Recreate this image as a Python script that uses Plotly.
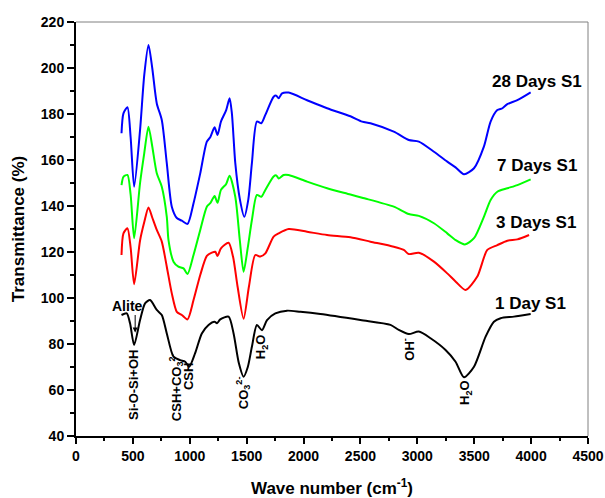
import plotly.graph_objects as go

# ---------------- data ----------------
wn_28 = [400, 417, 452, 480, 511, 563, 600, 637, 670, 710, 754, 798, 842, 886, 930, 980,
         1033, 1092, 1150, 1180, 1218, 1244, 1274, 1320, 1350, 1370, 1400, 1440, 1479, 1515,
         1546, 1590, 1629, 1664, 1737, 1760, 1781, 1811, 1869, 2031, 2207, 2412, 2515, 2588,
         2793, 2925, 3013, 3146, 3263, 3336, 3410, 3498, 3585, 3644, 3703, 3748, 3791, 3879, 3996]
t_28 = [171.6, 180.3, 182.9, 170.0, 148.4, 173.0, 197.0, 210.0, 200.0, 184.6, 177.4, 158.6,
        139.7, 134.8, 133.6, 132.2, 141.2, 154.2, 168.0, 169.9, 174.2, 170.9, 176.7, 181.7,
        186.8, 180.3, 158.6, 143.0, 135.3, 143.0, 158.6, 176.7, 176.0, 179.6, 187.5, 188.0,
        186.8, 189.0, 189.3, 186.0, 182.5, 179.0, 176.7, 176.0, 172.3, 168.7, 168.0, 163.6,
        159.3, 156.8, 153.8, 156.4, 165.8, 176.7, 181.7, 182.5, 184.3, 186.0, 189.4]

wn_7 = [400, 417, 452, 480, 511, 563, 600, 637, 670, 710, 754, 798, 813, 857, 900, 945, 980,
        1033, 1092, 1150, 1180, 1218, 1244, 1274, 1320, 1350, 1400, 1440, 1473, 1510, 1546,
        1590, 1629, 1664, 1737, 1760, 1781, 1825, 1869, 2031, 2207, 2412, 2515, 2793, 2925,
        3013, 3146, 3263, 3336, 3418, 3498, 3585, 3644, 3703, 3791, 3879, 3996]
t_7 = [149.1, 152.7, 153.5, 145.0, 126.0, 150.0, 163.0, 174.5, 166.0, 154.2, 148.4, 135.3,
       125.2, 115.8, 113.6, 112.9, 110.4, 118.7, 129.6, 139.7, 141.2, 144.3, 141.4, 147.0,
       149.6, 153.2, 144.0, 125.0, 111.4, 122.0, 133.9, 144.8, 144.0, 147.0, 152.8, 153.3,
       152.0, 153.5, 153.5, 150.6, 147.7, 145.0, 143.6, 139.7, 136.5, 135.7, 132.5, 128.1,
       125.2, 123.3, 126.0, 135.3, 142.6, 146.2, 147.7, 149.1, 151.6]

wn_3 = [400, 417, 452, 480, 511, 563, 600, 637, 670, 710, 754, 798, 842, 886, 930, 980, 1033,
        1092, 1150, 1194, 1224, 1244, 1274, 1341, 1380, 1420, 1473, 1520, 1576, 1620, 1664,
        1737, 1781, 1869, 2031, 2207, 2412, 2588, 2793, 2881, 2925, 3013, 3146, 3263, 3340,
        3424, 3527, 3615, 3703, 3791, 3879, 3982]
t_3 = [118.7, 128.1, 130.3, 122.0, 106.0, 125.0, 133.0, 139.4, 135.0, 129.6, 124.5, 113.6,
       102.0, 94.0, 92.6, 90.7, 99.1, 110.0, 118.3, 119.7, 120.1, 118.3, 121.6, 124.0, 118.0,
       105.0, 91.0, 105.0, 118.7, 118.0, 119.4, 126.7, 128.1, 130.0, 128.8, 127.4, 126.4,
       124.5, 122.3, 120.9, 119.1, 119.7, 115.8, 110.7, 107.0, 103.5, 109.3, 120.9, 123.0,
       124.9, 125.5, 127.4]

wn_1 = [400, 446, 475, 511, 563, 607, 651, 710, 754, 798, 857, 915, 960, 995, 1047, 1106,
        1165, 1218, 1239, 1268, 1341, 1385, 1430, 1473, 1510, 1546, 1590, 1634, 1679, 1752,
        1855, 1972, 2148, 2500, 2764, 2837, 2925, 3013, 3116, 3248, 3336, 3410, 3498, 3600,
        3673, 3732, 3849, 3996]
t_1 = [92.6, 93.3, 89.0, 79.6, 90.4, 97.7, 99.1, 94.8, 92.6, 84.6, 74.5, 73.0, 72.3, 70.1,
       76.0, 84.6, 88.3, 89.7, 89.0, 90.7, 91.9, 84.6, 72.0, 65.8, 70.0, 78.8, 88.3, 86.0,
       90.4, 93.3, 94.5, 94.0, 93.0, 90.4, 88.3, 86.1, 84.3, 85.4, 82.5, 77.4, 72.3, 65.5,
       70.1, 83.2, 89.7, 91.2, 91.9, 93.0]

series_names = ["28 Days S1", "7 Days S1", "3 Days S1", "1 Day S1"]
series_colors = ["#0000FF", "#00FF00", "#FF0000", "#000000"]
series_x = [wn_28, wn_7, wn_3, wn_1]
series_y = [t_28, t_7, t_3, t_1]

# series label positions (right edge x, centre y) in data units
label_x = [4463, 4419, 4410, 4322]
label_y = [194.3, 157.8, 133.0, 97.8]

# band assignments (rotated text): text, x, y
band_text = ["Si-O-Si+OH", "CSH+CO<sub>3</sub><sup>2-</sup>", "CSH",
             "CO<sub>3</sub><sup>2-</sup>", "H<sub>2</sub>O", "OH<sup>-</sup>", "H<sub>2</sub>O"]
band_x = [510, 880, 995, 1470, 1637, 2923, 3424]
band_y = [62.2, 61.3, 65.7, 58.7, 78.7, 77.8, 59.0]

FONT = "Liberation Sans, Arial, sans-serif"

fig = go.Figure()
for name, col, xs, ys in zip(series_names, series_colors, series_x, series_y):
    fig.add_trace(go.Scatter(x=xs, y=ys, mode="lines", name=name,
                             line=dict(color=col, width=2, shape="spline", smoothing=0.7),
                             showlegend=False))

annotations = []
for name, lx, ly in zip(series_names, label_x, label_y):
    annotations.append(dict(x=lx, y=ly, xref="x", yref="y", text=name, showarrow=False,
                            xanchor="right", yanchor="middle",
                            font=dict(family=FONT, size=17, color="black", weight="bold")))
for t, bx, by in zip(band_text, band_x, band_y):
    annotations.append(dict(x=bx, y=by, xref="x", yref="y", text=t, showarrow=False,
                            textangle=-90, xanchor="center", yanchor="middle",
                            font=dict(family=FONT, size=13, color="black", weight="bold")))
# Alite label + arrow
annotations.append(dict(x=449, y=96.5, xref="x", yref="y", text="Alite", showarrow=False,
                        font=dict(family=FONT, size=14, color="black", weight="bold")))
annotations.append(dict(x=520, y=85.0, xref="x", yref="y", text="", showarrow=True,
                        ax=0, ay=-19, arrowhead=2, arrowsize=1, arrowwidth=1,
                        arrowcolor="black"))

fig.update_layout(
    width=605, height=498,
    margin=dict(l=76, r=17, t=22, b=62, autoexpand=False),
    plot_bgcolor="white", paper_bgcolor="white",
    annotations=annotations,
    shapes=[
        dict(type="line", xref="paper", yref="paper", x0=0, x1=1, y0=1, y1=1,
             line=dict(color="#808080", width=1)),
        dict(type="line", xref="paper", yref="paper", x0=1, x1=1, y0=0, y1=1,
             line=dict(color="#808080", width=1)),
    ],
    xaxis=dict(range=[0, 4500], dtick=500, tick0=0, showgrid=False, zeroline=False,
               automargin=False,
               showline=True, linecolor="black", linewidth=2,
               ticks="outside", ticklen=6, tickwidth=2, tickcolor="black",
               minor=dict(ticks="outside", dtick=250, ticklen=3, tickwidth=1.5,
                          tickcolor="black", showgrid=False),
               tickfont=dict(family=FONT, size=14, color="black", weight="bold"),
               title=dict(text="Wave number (cm<sup>-1</sup>)", standoff=22,
                          font=dict(family=FONT, size=17, color="black", weight="bold"))),
    yaxis=dict(range=[40, 220], dtick=20, tick0=40, showgrid=False, zeroline=False,
               automargin=False,
               showline=True, linecolor="black", linewidth=2,
               ticks="outside", ticklen=7, tickwidth=2, tickcolor="black",
               minor=dict(ticks="outside", dtick=10, ticklen=4, tickwidth=1.5,
                          tickcolor="black", showgrid=False),
               tickfont=dict(family=FONT, size=14, color="black", weight="bold"),
               title=dict(text="Transmittance (%)", standoff=12,
                          font=dict(family=FONT, size=17, color="black", weight="bold"))),
)

fig.write_html("out.html")
